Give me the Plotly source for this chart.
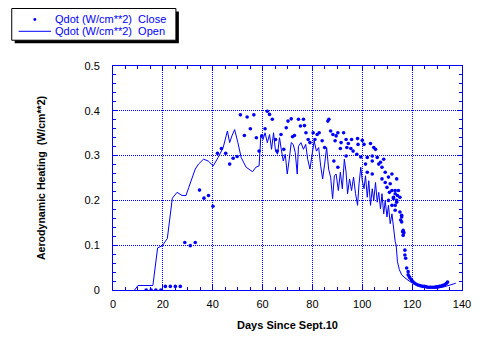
import plotly.graph_objects as go

# Open (solid line) series
open_days = [8.7, 10.0, 16.0, 17.9, 19.8, 21.8, 23.8, 25.7, 27.7, 29.3, 30.4, 33.0, 34.3, 36.3, 38.2,
             40.2, 42.2, 44.2, 45.9, 46.8, 47.7, 48.8, 50.1, 51.4, 53.4, 56.0, 57.3, 58.6, 59.3,
             60.2, 61.0, 61.9, 62.8, 63.6, 64.4, 65.2, 66.0, 66.8, 67.5, 68.3, 69.1, 69.9, 70.7,
             71.5, 72.3, 73.1, 73.9, 74.4, 75.4, 76.4, 77.3, 78.1, 79.0, 79.9, 80.7, 81.6, 82.5,
             83.3, 84.1, 84.9, 85.7, 86.5, 87.3, 88.1, 88.8, 89.5, 90.4, 91.2, 92.0, 92.8, 93.5,
             94.1, 94.9, 95.7, 96.5, 97.3, 98.1, 98.7, 99.4, 100.0, 100.7, 101.3, 102.0, 102.6,
             103.3, 104.0, 104.6, 105.3, 106.0, 106.6, 107.3, 107.9, 108.6, 109.2, 109.9, 110.5,
             111.2, 111.9, 112.5, 113.2, 113.6, 114.1, 114.9, 115.8, 117.1, 119.1, 121.7, 124.3,
             127.0, 129.6, 132.2, 134.2, 136.0, 137.5]
open_q = [0.0, 0.01, 0.01, 0.094, 0.099, 0.115, 0.205, 0.218, 0.211, 0.211, 0.229, 0.27, 0.281, 0.292, 0.288,
          0.277, 0.296, 0.318, 0.355, 0.329, 0.344, 0.358, 0.329, 0.296, 0.274, 0.264, 0.274, 0.277, 0.344,
          0.336, 0.351, 0.329, 0.347, 0.314, 0.351, 0.310, 0.303, 0.340, 0.314, 0.288, 0.303, 0.259, 0.292,
          0.329, 0.325, 0.307, 0.259, 0.321, 0.329, 0.314, 0.325, 0.292, 0.270, 0.310, 0.333, 0.310, 0.318,
          0.277, 0.248, 0.281, 0.318, 0.270, 0.252, 0.204, 0.255, 0.259, 0.222, 0.263, 0.226, 0.292, 0.263,
          0.215, 0.248, 0.222, 0.252, 0.215, 0.189, 0.237, 0.274, 0.244, 0.226, 0.255, 0.207, 0.244,
          0.189, 0.226, 0.200, 0.240, 0.196, 0.218, 0.181, 0.215, 0.170, 0.200, 0.163, 0.189,
          0.148, 0.170, 0.133, 0.108, 0.100, 0.063, 0.045, 0.034, 0.027, 0.019, 0.012, 0.008,
          0.006, 0.004, 0.006, 0.010, 0.012, 0.015]

# Close (dots) series
close_days = [13.3, 15.3, 17.2, 19.2, 21.0, 23.0, 25.0, 27.0, 28.8, 31.0, 33.0,
              34.7, 36.5, 38.3, 40.1, 41.9, 43.5, 45.2, 46.8, 48.2, 49.8,
              51.1, 52.7, 53.8, 55.1, 56.5, 57.5, 58.6, 59.7, 61.0, 61.9, 62.8, 63.9, 65.2, 65.9,
              67.4, 68.5, 69.5, 70.2, 71.5, 72.0, 72.8, 74.4, 75.2, 76.4, 76.8, 77.4, 78.3, 79.0,
              80.3, 81.0, 81.9, 82.7, 83.9, 84.9, 86.2, 86.6, 87.3, 88.2, 88.6, 89.1,
              89.5, 90.2, 90.2, 91.2, 91.5, 92.5, 93.5, 93.5, 93.8, 94.4, 95.4, 95.7, 96.3, 97.8,
              98.1, 98.3, 99.4, 100.0, 100.7, 101.3, 102.0, 102.0, 103.3, 104.0, 104.0, 104.0,
              104.6, 105.3, 106.0, 106.6, 107.3, 107.9, 107.9, 108.6, 109.2, 109.2, 109.9, 110.5,
              110.5, 110.9, 111.2, 111.9, 111.9, 111.9, 112.5, 112.5, 113.2, 113.2, 113.2, 113.2,
              113.8, 113.8, 113.8, 114.1, 114.5, 115.1, 115.1, 115.4, 115.8, 115.8, 115.8, 116.2,
              116.4, 116.4, 116.7, 117.1, 117.1, 117.4, 117.8, 118.4, 118.4, 118.8, 119.1, 119.7,
              120.0, 120.4, 121.0, 121.7, 122.3, 123.0, 123.6, 124.3, 125.0, 125.7, 126.3, 127.0,
              127.6, 128.3, 129.0, 129.6, 130.3, 130.9, 131.6, 132.2, 132.8, 133.3, 133.8, 134.2]
close_q = [0.0, 0.0, 0.0, 0.0, 0.008, 0.008, 0.008, 0.008, 0.106, 0.099, 0.106,
           0.223, 0.205, 0.211, 0.187, 0.305, 0.316, 0.305, 0.281, 0.294, 0.298,
           0.391, 0.345, 0.386, 0.360, 0.391, 0.340, 0.310, 0.344, 0.360, 0.399, 0.392, 0.381, 0.336, 0.310,
           0.347, 0.314, 0.362, 0.377, 0.382, 0.342, 0.345, 0.381, 0.366, 0.381, 0.367, 0.351, 0.336, 0.329,
           0.351, 0.336, 0.347, 0.351, 0.333, 0.318, 0.377, 0.381, 0.355, 0.347, 0.288, 0.333,
           0.344, 0.351, 0.274, 0.316, 0.329, 0.351, 0.336, 0.299, 0.318, 0.327, 0.316, 0.336, 0.310, 0.303,
           0.338, 0.325, 0.297, 0.334, 0.325, 0.281, 0.296, 0.263, 0.327, 0.299, 0.288, 0.259,
           0.318, 0.314, 0.296, 0.281, 0.285, 0.274, 0.248, 0.292, 0.263, 0.240, 0.229, 0.252,
           0.200, 0.218, 0.237, 0.259, 0.189, 0.222, 0.207, 0.204, 0.222, 0.178, 0.215, 0.189,
           0.248, 0.200, 0.196, 0.211, 0.222, 0.207, 0.174, 0.156, 0.163, 0.167, 0.152, 0.130,
           0.133, 0.122, 0.128, 0.089, 0.078, 0.071, 0.049, 0.041, 0.034, 0.030, 0.027, 0.023,
           0.020, 0.018, 0.015, 0.013, 0.011, 0.010, 0.009, 0.008, 0.008, 0.007, 0.006, 0.006,
           0.006, 0.006, 0.006, 0.007, 0.007, 0.008, 0.009, 0.010, 0.011, 0.013, 0.015, 0.018]

x_ticks = [0, 20, 40, 60, 80, 100, 120, 140]
y_ticks = [0, 0.1, 0.2, 0.3, 0.4, 0.5]
y_tick_labels = ["0", "0.1", "0.2", "0.3", "0.4", "0.5"]
series_names = ["Qdot (W/cm**2)\u00a0\u00a0Close", "Qdot (W/cm**2)\u00a0\u00a0Open"]

BLUE = "#0000ff"
FONT = "Liberation Sans, Arial, Helvetica, sans-serif"

W, H = 483, 342
ML, MR, MT, MB = 113, 15, 66, 50
PW, PH = W - ML - MR, H - MT - MB


def px(xp):
    return (xp - ML) / PW


def py(yp):
    return (H - MB - yp) / PH


fig = go.Figure()
fig.add_trace(go.Scatter(
    x=close_days, y=close_q, mode="markers", name=series_names[0],
    marker=dict(color=BLUE, size=3.6, line=dict(width=0)),
))
fig.add_trace(go.Scatter(
    x=open_days, y=open_q, mode="lines", name=series_names[1],
    line=dict(color=BLUE, width=1),
))

axis_common = dict(
    showgrid=True, gridcolor=BLUE, griddash="1px,1px", gridwidth=1,
    showline=True, linecolor=BLUE, linewidth=1, mirror="ticks",
    ticks="inside", ticklen=5, tickcolor=BLUE, tickwidth=1,
    zeroline=False,
    tickfont=dict(family=FONT, size=11, color="black"),
)

# legend drawn as a framed box with drop shadow
shapes = [
    dict(type="rect", xref="paper", yref="paper", x0=px(13), x1=px(180), y0=py(11), y1=py(43),
         fillcolor="black", line=dict(width=0), layer="above"),
    dict(type="rect", xref="paper", yref="paper", x0=px(10), x1=px(177), y0=py(8), y1=py(40),
         fillcolor="white", line=dict(color="black", width=1), layer="above"),
    dict(type="line", xref="paper", yref="paper", x0=px(17), x1=px(50), y0=py(31), y1=py(31),
         line=dict(color=BLUE, width=1), layer="above"),
    dict(type="circle", xref="paper", yref="paper", x0=px(32), x1=px(35), y0=py(17.5), y1=py(20.5),
         fillcolor=BLUE, line=dict(width=0), layer="above"),
]
annotations = [
    dict(text=series_names[0], xref="paper", yref="paper", x=px(52), y=py(19),
         xanchor="left", yanchor="middle", showarrow=False,
         font=dict(family=FONT, size=11, color=BLUE)),
    dict(text=series_names[1], xref="paper", yref="paper", x=px(52), y=py(31),
         xanchor="left", yanchor="middle", showarrow=False,
         font=dict(family=FONT, size=11, color=BLUE)),
]

fig.update_layout(
    width=W, height=H, autosize=False,
    margin=dict(l=ML, r=MR, t=MT, b=MB),
    paper_bgcolor="white", plot_bgcolor="white",
    font=dict(family=FONT, color="black"),
    showlegend=False,
    xaxis=dict(
        range=[0, 140], tickmode="array", tickvals=x_ticks,
        minor=dict(dtick=5, tick0=0, ticks="inside", ticklen=3, tickcolor=BLUE, showgrid=False),
        ticklabelstandoff=4,
        title=dict(text="Days Since Sept.10", standoff=12,
                   font=dict(family=FONT, size=11, weight="bold", color="black")),
        **axis_common,
    ),
    yaxis=dict(
        range=[0, 0.5], tickmode="array", tickvals=y_ticks, ticktext=y_tick_labels,
        minor=dict(dtick=0.02, tick0=0, ticks="inside", ticklen=3, tickcolor=BLUE, showgrid=False),
        ticklabelstandoff=10,
        title=dict(text="Aerodynamic Heating\u00a0\u00a0(W/cm**2)", standoff=36,
                   font=dict(family=FONT, size=10.6, weight="bold", color="black")),
        **axis_common,
    ),
    shapes=shapes,
    annotations=annotations,
)

fig.write_html("out.html")
